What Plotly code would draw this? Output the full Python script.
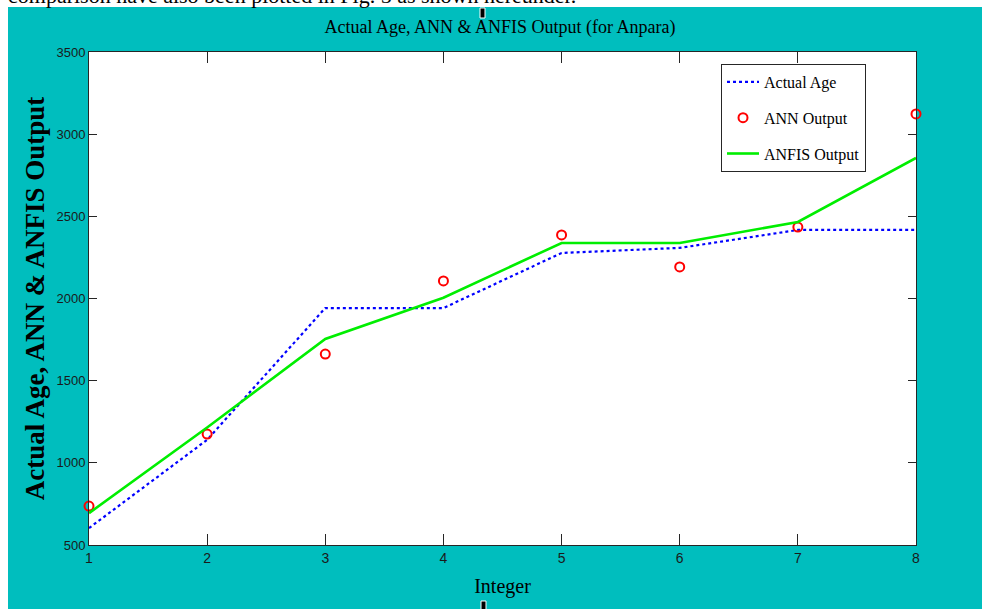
import plotly.graph_objects as go

# ---- data ----
integers = [1, 2, 3, 4, 5, 6, 7, 8]
actual_age = [603, 1140, 1942, 1942, 2277, 2308, 2417, 2417]
ann_output = [737, 1175, 1662, 2107, 2387, 2192, 2435, 3123]
anfis_output = [694, 1215, 1754, 2005, 2338, 2338, 2466, 2855]

x_ticks = [1, 2, 3, 4, 5, 6, 7, 8]
y_ticks = [500, 1000, 1500, 2000, 2500, 3000, 3500]

# ---- layout geometry ----
W, H = 982, 609
ML, MR, MT, MB = 89, 66, 52, 64
PW, PH = W - ML - MR, H - MT - MB
TEAL = "#00BEBE"
AX = "#262626"


def px_x(p):
    return (p - ML) / PW


def px_y(p):
    return (H - MB - p) / PH


fig = go.Figure()

fig.add_trace(go.Scatter(
    x=integers, y=actual_age, name="Actual Age", mode="lines",
    legendgroup="a",
    line=dict(color="#0000FF", width=2.2, dash="dot"),
))
fig.add_trace(go.Scatter(
    x=integers, y=ann_output, name="ANN Output", mode="markers",
    legendgroup="b",
    marker=dict(symbol="circle-open", color="#FF0000", size=9,
                line=dict(width=2, color="#FF0000")),
    cliponaxis=False,
))
fig.add_trace(go.Scatter(
    x=integers, y=anfis_output, name="ANFIS Output", mode="lines",
    legendgroup="c",
    line=dict(color="#00EE00", width=2.6),
))

shapes = [
    # white strips of the surrounding document
    dict(type="rect", xref="paper", yref="paper", layer="below",
         x0=px_x(-5), x1=px_x(8), y0=px_y(H + 5), y1=px_y(-5),
         fillcolor="white", line=dict(width=0)),
    dict(type="rect", xref="paper", yref="paper", layer="below",
         x0=px_x(-5), x1=px_x(W + 5), y0=px_y(7), y1=px_y(-5),
         fillcolor="white", line=dict(width=0)),
    # text cursor marks
    dict(type="rect", xref="paper", yref="paper", layer="above",
         x0=px_x(480), x1=px_x(485), y0=px_y(18), y1=px_y(8),
         fillcolor="black", line=dict(width=1, color="white")),
    dict(type="rect", xref="paper", yref="paper", layer="above",
         x0=px_x(481), x1=px_x(486), y0=px_y(612), y1=px_y(601),
         fillcolor="black", line=dict(width=1, color="white")),
]

annotations = [
    dict(text="comparison have also been plotted in Fig. 5 as shown hereunder.",
         xref="paper", yref="paper", x=px_x(6), y=px_y(10),
         xanchor="left", yanchor="bottom", showarrow=False,
         font=dict(family="Liberation Serif", size=22, color="black")),
]

fig.update_layout(
    width=W, height=H,
    margin=dict(l=ML, r=MR, t=MT, b=MB, autoexpand=False),
    paper_bgcolor=TEAL, plot_bgcolor="white",
    title=dict(text="Actual Age, ANN &amp; ANFIS Output (for Anpara)",
               x=px_x(500), xref="paper", xanchor="center",
               y=1 - 27 / H, yref="container", yanchor="middle",
               font=dict(family="Liberation Serif", size=18, color="black")),
    xaxis=dict(
        range=[1, 8], tickvals=x_ticks, ticktext=[str(v) for v in x_ticks],
        showgrid=False, zeroline=False,
        showline=True, linecolor=AX, linewidth=1, mirror="ticks",
        ticks="inside", ticklen=11, tickcolor=AX, tickwidth=1,
        tickfont=dict(family="Liberation Sans Narrow, Liberation Sans", size=14, color="#1a1a1a"),
        title=dict(text="Integer", standoff=14,
                   font=dict(family="Liberation Serif", size=20, color="black")),
    ),
    yaxis=dict(
        range=[500, 3500], tickvals=y_ticks, ticktext=[str(v) for v in y_ticks],
        showgrid=False, zeroline=False,
        showline=True, linecolor=AX, linewidth=1, mirror="ticks",
        ticks="inside", ticklen=8, tickcolor=AX, tickwidth=1,
        tickfont=dict(family="Liberation Sans Narrow, Liberation Sans", size=13, color="#1a1a1a"),
        title=dict(text="<b>Actual Age, ANN &amp; ANFIS Output</b>", standoff=4,
                   font=dict(family="Liberation Serif", size=27, color="black")),
    ),
    legend=dict(
        x=px_x(721), y=px_y(64), xanchor="left", yanchor="top",
        bgcolor="white", bordercolor=AX, borderwidth=1,
        font=dict(family="Liberation Serif", size=16, color="black"),
        itemwidth=32, tracegroupgap=12,
    ),
    showlegend=True,
    shapes=shapes,
    annotations=annotations,
)

fig.write_html(
    "out.html",
    config={"displayModeBar": False},
    post_script="document.body.style.margin='0';document.body.style.padding='0';",
)
